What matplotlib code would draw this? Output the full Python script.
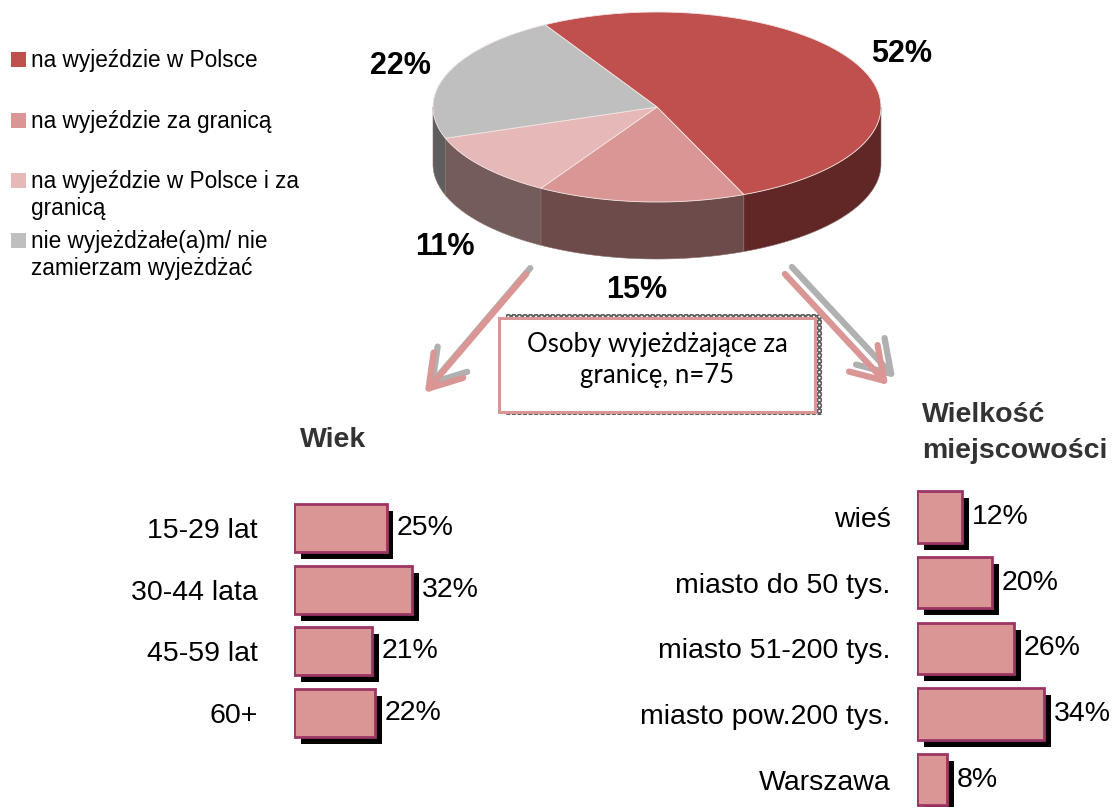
import numpy as np
import matplotlib
matplotlib.use("Agg")
import matplotlib.pyplot as plt
from matplotlib.patches import Polygon, Rectangle, FancyArrowPatch
import matplotlib.patheffects as pe

plt.rcParams['font.family'] = ['Liberation Sans', 'DejaVu Sans']
plt.rcParams['hatch.linewidth'] = 1.4

# dane - wykres kołowy
pie_labels = ["na wyjeździe w Polsce", "na wyjeździe za granicą",
              "na wyjeździe w Polsce i za\ngranicą",
              "nie wyjeżdżałe(a)m/ nie\nzamierzam wyjeżdżać"]
pie_values = [52, 15, 11, 22]
pie_top = ["#C0504D", "#D99694", "#E6B9B8", "#BFBFBF"]
pie_side = ["#612726", "#6D4B4A", "#745C5B", "#5E5E5E"]

# dane - wiek
age_cats = ["15-29 lat", "30-44 lata", "45-59 lat", "60+"]
age_vals = [25, 32, 21, 22]

# dane - wielkość miejscowości
town_cats = ["wieś", "miasto do 50 tys.", "miasto 51-200 tys.",
             "miasto pow.200 tys.", "Warszawa"]
town_vals = [12, 20, 26, 34, 8]

W, H = 1117, 807
fig = plt.figure(figsize=(W / 100, H / 100), dpi=100)
ax0 = fig.add_axes([0, 0, 1, 1])
ax0.set_xlim(0, W)
ax0.set_ylim(H, 0)
ax0.axis('off')

# ---- pie 3d ----
cx, cy, rx, ry, depth = 657, 107, 224, 95, 57


def arc(a0, a1, dy=0, n=80):
    t = np.radians(np.linspace(a0, a1, n))
    return np.column_stack([cx + rx * np.cos(t), cy - ry * np.sin(t) + dy])


shares = np.array(pie_values) / sum(pie_values) * 360
starts = 120 - np.concatenate([[0], np.cumsum(shares)[:-1]])
ends = starts - shares

# sides (front half only)
for a0, a1, c in zip(starts, ends, pie_side):
    hi = min(a0, 0)
    lo = max(a1, -180)
    if hi > lo:
        top = arc(hi, lo)
        bot = arc(lo, hi, depth)
        ax0.add_patch(Polygon(np.vstack([top, bot]), closed=True, facecolor=c,
                              edgecolor='#8a7070', lw=0.4, zorder=2))

# top
for a0, a1, c in zip(starts, ends, pie_top):
    pts = np.vstack([[cx, cy], arc(a0, a1)])
    ax0.add_patch(Polygon(pts, closed=True, facecolor=c, edgecolor='#f2e4e4',
                          lw=0.6, zorder=3))

# percent labels
for a0, a1, v in zip(starts, ends, pie_values):
    m = np.radians((a0 + a1) / 2)
    x = cx + 1.22 * rx * np.cos(m)
    y = cy - 1.25 * ry * np.sin(m)
    if np.sin(m) < 0:
        y += depth + 8
    ax0.text(x, y, f"{v}%", fontsize=22, fontweight='bold', ha='center',
             va='center', zorder=5)

# legend
leg_y = [67, 128, 188, 248]
for lab, c, yb in zip(pie_labels, pie_top, leg_y):
    ax0.add_patch(Rectangle((11, yb - 15), 15, 15, facecolor=c, lw=0, zorder=4))
    for k, line in enumerate(lab.split("\n")):
        ax0.text(31, yb + k * 27, line, fontsize=16.3, va='baseline', ha='left',
                 zorder=4)

# arrows + shadows
for (p0, p1), off in [(((528, 272), (423, 395)), (4, -6)),
                      (((783, 272), (890, 387)), (7, -7))]:
    s0 = (p0[0] + off[0], p0[1] + off[1])
    s1 = (p1[0] + off[0], p1[1] + off[1])
    for a, b, col, z in [(s0, s1, '#b0b0b0', 3), (p0, p1, '#D99694', 4)]:
        ax0.add_patch(FancyArrowPatch(a, b, arrowstyle='->,head_length=0.55,head_width=0.35',
                                      mutation_scale=40, color=col, lw=4.5,
                                      capstyle='round', joinstyle='round', zorder=z))

# box
ax0.add_patch(Rectangle((506, 314), 316, 101, facecolor='white', edgecolor='#606060',
                        hatch='xxxxxx', lw=0, zorder=3))
ax0.add_patch(Rectangle((499, 318), 316, 94, facecolor='white', edgecolor='#D99694',
                        lw=2.2, zorder=4))
ax0.text(657, 360, "Osoby wyjeżdżające za\ngranicę, n=75", fontsize=18.5,
         family=['Lato', 'DejaVu Sans'], ha='center', va='center',
         linespacing=1.3, zorder=5)

# titles
ax0.text(300, 440, "Wiek", fontsize=20.5, fontweight='bold', color='#333333',
         ha='left', va='center')
ax0.text(922, 433, "Wielkość\nmiejscowości", fontsize=20.5, fontweight='bold',
         color='#333333', ha='left', va='center', linespacing=1.5)


def bar_panel(rect, cats, vals, pad):
    ax = fig.add_axes(rect)
    y = np.arange(len(cats))
    ax.barh(y, vals, height=0.78, color='#D99694', edgecolor='#9B3564',
            linewidth=2.0, zorder=3,
            path_effects=[pe.SimplePatchShadow(offset=(5, -5), shadow_rgbFace='black',
                                               alpha=1.0), pe.Normal()])
    for i, v in enumerate(vals):
        ax.annotate(f"{v}%", (v, i), xytext=(7, 0), textcoords='offset points',
                    va='center', ha='left', fontsize=20.5)
    ax.set_xlim(0, 100)
    ax.set_ylim(len(cats) - 0.5, -0.5)
    ax.set_yticks(y, cats)
    ax.tick_params(axis='y', length=0, pad=pad, labelsize=20.5)
    ax.set_xticks([])
    for s in ax.spines.values():
        s.set_visible(False)
    ax.patch.set_alpha(0)
    return ax


bar_panel([294 / W, (H - 743.75) / H, 370 / W, 246.5 / H], age_cats, age_vals, 26)
bar_panel([917 / W, (H - 812.65) / H, 373 / W, 328.5 / H], town_cats, town_vals, 19)

plt.savefig("out.png", dpi=100)
